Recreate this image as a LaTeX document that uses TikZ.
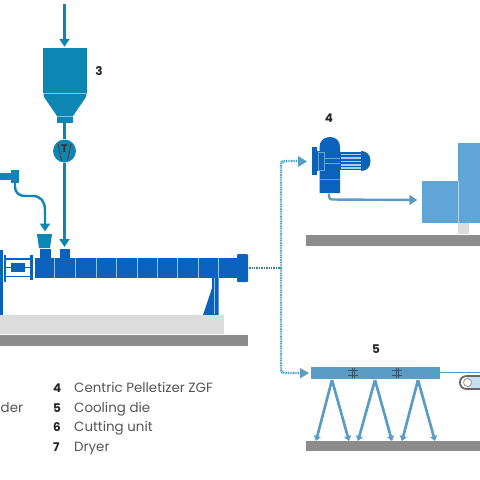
\documentclass[tikz,border=0pt]{standalone}
\usepackage{fontspec}
\setmainfont{Poppins}
\usetikzlibrary{arrows.meta}
\definecolor{hop}{HTML}{0E86B4}
\definecolor{ext}{HTML}{0A62BC}
\definecolor{lite}{HTML}{5FA6D6}
\definecolor{steel}{HTML}{5B9CC4}
\definecolor{gr}{HTML}{8C8C8C}
\definecolor{lg}{HTML}{DCDCDC}
\definecolor{txt}{HTML}{555555}
\definecolor{dots}{HTML}{4FA3C4}
\tikzset{
 feed/.style={draw=hop,line width=2.4pt,-{Triangle[length=8pt,width=10pt]}},
 drop/.style={draw=steel,line width=2.7pt,-{Triangle[length=5pt,width=7pt]}},
 dotted line/.style={draw=dots,line width=2.4pt,dash pattern=on 1pt off .7pt},
 num/.style={font=\fontsize{12}{14}\selectfont\bfseries,text=black!85,inner sep=0pt},
 item/.style={font=\fontsize{13.4}{14}\selectfont,text=txt,inner sep=0pt,anchor=base west},
 seam/.style={draw=lite!70!white,line width=.7pt}
}
\begin{document}
\begin{tikzpicture}[x=1pt,y=-1pt]
\useasboundingbox (0,0) rectangle (480,480);
% hopper 3
\coordinate (in3) at (64.5,4);
\fill[hop] (43,48) rectangle (87,92.5);
\fill[lite!70!white] (43.5,92.5) rectangle (86.5,94);
\fill[hop] (43.5,94) -- (86.5,94) -- (86,97) -- (73,116) -- (57,116) -- (44,97) -- cycle;
\fill[lite!70!white] (57,116) rectangle (73,117);
\fill[hop] (57,117) rectangle (73,123);
\node[inner sep=0pt] (hopper) at (64.5,47.5) {};
\draw[feed] (in3) -- (hopper.north);
\node[num] (n3) at (99,71) {3};
\node[circle,fill=hop,minimum size=23pt,inner sep=0pt] (meter) at (64.5,151) {};
\draw[line width=1.3pt,black!70] (58,144) -- (61.5,160) (71,144) -- (67.5,160);
\node[inner sep=0pt,font=\fontsize{11}{11}\selectfont\bfseries,text=black!80] at (64.5,149) {T};
\draw[hop,line width=2.4pt] (64.5,123) -- (meter.north);
% feeder 2
\fill[hop] (0,173) rectangle (12,180);
\fill[hop] (11,170) rectangle (18.5,183);
\coordinate (sfeed) at (15,183);
\coordinate (hop2) at (45,231.5);
\draw[feed] (sfeed) -- (15,186) .. controls (15,194) and (20,196) .. (26,196) -- (33,196) .. controls (41,196) and (45,202) .. (45,210) -- (hop2);
\fill[hop] (37,234) -- (52,234) -- (50,248) -- (39,248) -- cycle;
\fill[ext] (40,249) rectangle (51,257.5);
\fill[ext] (59.5,249) rectangle (70,257.5);
\draw[feed] (meter.south) -- (64.5,247);
% extruder
\fill[ext] (35,257.5) rectangle (238,277.5);
\foreach \x in {54,75,96,116,137,157,177,198,218} \draw[seam] (\x,258) -- (\x,277.5);
\fill[ext,rounded corners=1pt] (237,254) rectangle (248,282);
% drive left
\fill[ext] (0,250) rectangle (2.5,315);
\fill[ext] (3.8,255) rectangle (5.8,282);
\fill[ext] (30,255) rectangle (33,280);
\draw[ext,line width=1.4pt] (5,259) -- (31,259) (5,276.5) -- (31,276.5);
\fill[ext] (11,263) rectangle (25,272);
\draw[ext,line width=1.4pt] (5,267.5) -- (11,267.5) (25,267.5) -- (31,267.5);
% support
\fill[ext] (212,277.5) -- (218.5,277.5) -- (218.5,315) -- (203,315) -- (212,288) -- cycle;
\draw[seam] (214.5,278) -- (214.5,314);
% ground left
\fill[lg] (0,315) rectangle (224,334);
\fill[gr] (0,335) rectangle (248,345.5);
% connector
\coordinate (junc) at (281,268);
\node[inner sep=0pt] (dieout) at (248,268) {};
\draw[dotted line,draw=dots!75!black] (dieout) -- (junc);
\draw[dotted line,rounded corners=3pt] (junc) -- (281,161) -- (299,161);
\draw[dotted line,rounded corners=3pt] (junc) -- (281,373) -- (303,373);
\fill[steel] (298,156) -- (307,161.5) -- (298,167) -- cycle;
\fill[steel] (300,368) -- (309,373) -- (300,378.5) -- cycle;
% pelletizer
\node[num] (n4) at (329,118) {4};
\fill[ext] (319.5,193) -- (319.5,147) .. controls (319.5,141) and (324,137) .. (330,137) .. controls (336,137) and (340,141) .. (340,147) -- (340,193) -- cycle;
\draw[lite,line width=.7pt] (320,179) -- (340,179);
\fill[ext] (312,147) rectangle (317,175);
\fill[ext] (317,151) rectangle (324,171);
\draw[lite,line width=.7pt] (318,152) rectangle (324,170);
\draw[lite,line width=.7pt] (324,158) -- (340,158) (324,163.5) -- (340,163.5);
\fill[ext] (340,152) rectangle (362,170);
\foreach \y in {154.5,158,161.5,165,168} \draw[lite!55!white,line width=1.1pt] (341,\y) -- (361,\y);
\fill[ext] (361,151) .. controls (367,151) and (370.5,155) .. (370.5,161) .. controls (370.5,167) and (367,171) .. (361,171) -- cycle;
\node[inner sep=0pt] (pelbase) at (329,193) {};
% big unit
\fill[lite] (421.5,181) rectangle (458,223);
\fill[lite] (458,143) rectangle (480,223);
\draw[white!50!lite,line width=.6pt] (458,181) -- (458,223);
\fill[lg] (458,223) rectangle (469,234);
\node[inner sep=0pt] (unit) at (418,200) {};
\draw[steel,line width=2.4pt,rounded corners=3pt,-{Triangle[length=8pt,width=10pt]}] (pelbase) -- (329,199.5) -- (unit);
\fill[gr] (306,235) rectangle (480,246);
% cooling
\node[num] (n5) at (376,349) {5};
\fill[steel] (311,367) rectangle (440,379);
\draw[black!45!steel,line width=.7pt] (348,370.5) -- (358,370.5) (348,375.5) -- (358,375.5) (352,368) -- (352,378) (354.5,368) -- (354.5,378);
\draw[black!45!steel,line width=.7pt] (392,370.5) -- (402,370.5) (392,375.5) -- (402,375.5) (396,368) -- (396,378) (398.5,368) -- (398.5,378);
\coordinate (p1) at (332,380);
\coordinate (p2) at (375,380);
\coordinate (p3) at (418,380);
\coordinate (b1a) at (316,441); \coordinate (b1b) at (349,441);
\coordinate (b2a) at (358,441); \coordinate (b2b) at (392,441);
\coordinate (b3a) at (402,441); \coordinate (b3b) at (435,441);
\draw[drop] (p1) -- (b1a); \draw[drop] (p1) -- (b1b);
\draw[drop] (p2) -- (b2a); \draw[drop] (p2) -- (b2b);
\draw[drop] (p3) -- (b3a); \draw[drop] (p3) -- (b3b);
\fill[gr] (306,441) rectangle (480,451);
% belt
\draw[steel,line width=1.8pt] (440,372.5) -- (480,372.5);
\fill[lite!35!white] (467,377) rectangle (480,388);
\draw[black!60,line width=1.8pt] (480,376) -- (467,376) .. controls (462,376) and (460,379) .. (460,382.5) .. controls (460,386) and (462,389) .. (467,389) -- (480,389);
\node[circle,draw=black!40,fill=white,line width=.8pt,minimum size=8pt,inner sep=0pt] (roll) at (467.5,382.5) {};
% legend
\node[item,anchor=base west] (l3) at (0.5,412) {der};
\foreach \n/\t/\y in {4/Centric Pelletizer ZGF/392,5/Cooling die/412,6/Cutting unit/431,7/Dryer/451}{
 \node[num,anchor=base west] (k\n) at (53,\y) {\n};
 \node[item] (t\n) at (74,\y) {\t};
}
\end{tikzpicture}
\end{document}
